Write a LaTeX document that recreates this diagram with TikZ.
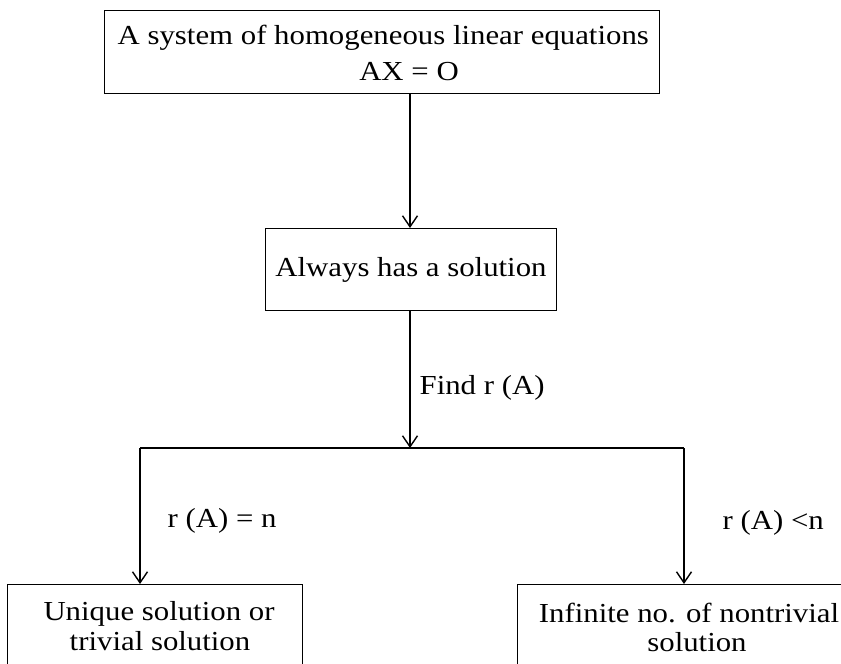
\documentclass[tikz,border=0pt]{standalone}
\usepackage{fontspec}
\setmainfont[FakeStretch=1.12]{Liberation Serif}
\usetikzlibrary{arrows.meta}
\begin{document}
\begin{tikzpicture}[x=1pt,y=-1pt,
  line width=1.3pt,
  every node/.style={font=\fontsize{27.5}{32}\selectfont, inner sep=0pt},
  box/.style={draw, rectangle, anchor=north west},
  lbl/.style={anchor=base},
  flow/.style={-{Straight Barb[length=11pt,width=15pt,line width=1.4pt]}}]
\useasboundingbox (0,0) rectangle (841,664);

% boxes
\node[box, minimum width=555pt, minimum height=83pt] (top) at (104,10) {};
\node[box, minimum width=291pt, minimum height=82pt] (mid) at (265,228) {};
\node[box, minimum width=295pt, minimum height=110pt] (left) at (7,584) {};
\node[box, minimum width=370pt, minimum height=110pt] (right) at (517,584) {};

% box texts
\node[lbl, anchor=base west] (t1) at (117,44) {A system of homogeneous linear equations};
\node[lbl] (t2) at (409,80) {AX = O};
\node[lbl] (t3) at (411,276) {Always has a solution};
\node[lbl] (t4) at (159,620) {Unique solution or};
\node[lbl] (t5) at (160,650) {trivial solution};
\node[lbl] (t6) at (689,622) {Infinite no. of nontrivial};
\node[lbl] (t7) at (697,651) {solution};

% branch points
\coordinate (fork) at (410,448);
\coordinate (forkL) at (140,448);
\coordinate (forkR) at (684,448);

% connectors
\draw[flow] (410,93) coordinate (topOut) -- (410,228) coordinate (midIn);
\draw[flow] (410,310) coordinate (midOut) -- (fork);
\draw (forkL) -- (forkR);
\draw[flow] (forkL) -- (140,584) coordinate (leftIn);
\draw[flow] (forkR) -- (684,584) coordinate (rightIn);

% connector labels
\node[lbl, anchor=base west] (l1) at (419,394) {Find r (A)};
\node[lbl, anchor=base west] (l2) at (167,527) {r (A) = n};
\node[lbl, anchor=base west] (l3) at (722,529) {r (A) <n};
\end{tikzpicture}
\end{document}
